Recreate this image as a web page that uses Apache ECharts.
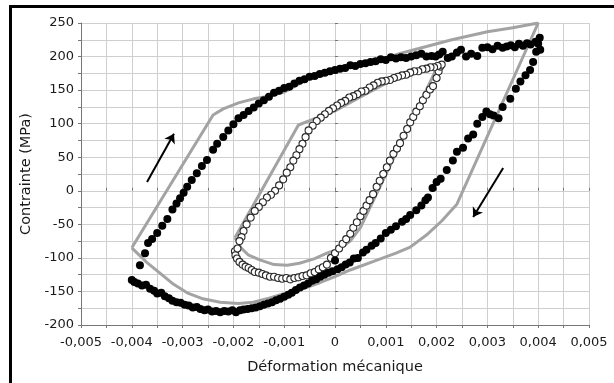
<!DOCTYPE html>
<html>
<head>
<meta charset="utf-8">
<script src="https://cdn.jsdelivr.net/npm/echarts@6/dist/echarts.min.js"></script>
<style>
  html, body { margin: 0; padding: 0; background: #fff; }
  #chart { position: absolute; left: 0; top: 0; width: 614px; height: 383px; }
  #frame { position: absolute; left: 9px; top: 5px; right: 0; bottom: 0;
           border-left: 3px solid #000; border-top: 3px solid #000; pointer-events: none; }
</style>
</head>
<body>
<div id="chart"></div>
<div id="frame"></div>
<script>
// mesures : cycle large (points pleins)
var grandCycle = [
  [-0.00400,-133],[-0.00395,-136],[-0.00388,-138],[-0.00380,-141],[-0.00372,-140],[-0.00364,-146],
  [-0.00356,-149],[-0.00350,-153],[-0.00342,-152],[-0.00335,-157],[-0.00327,-160],[-0.00320,-164],
  [-0.00312,-166],[-0.00304,-167],[-0.00296,-170],[-0.00288,-171],[-0.00280,-174],[-0.00272,-173],
  [-0.00265,-176],[-0.00257,-178],[-0.00250,-177],[-0.00242,-180],[-0.00234,-179],[-0.00226,-181],
  [-0.00218,-179],[-0.00210,-180],[-0.00202,-178],[-0.00195,-181],[-0.00187,-178],[-0.00180,-177],
  [-0.00172,-176],[-0.00164,-175],[-0.00156,-174],[-0.00148,-172],[-0.00140,-170],[-0.00132,-168],
  [-0.00124,-166],[-0.00116,-163],[-0.00108,-161],[-0.00100,-158],[-0.00092,-155],[-0.00085,-152],
  [-0.00077,-148],[-0.00069,-144],[-0.00061,-141],[-0.00053,-138],[-0.00045,-134],[-0.00037,-132],
  [-0.00029,-128],[-0.00021,-125],[-0.00013,-122],[-0.00005,-120],[0.00000,-104],[0.00005,-117],
  [0.00013,-114],[0.00021,-110],[0.00029,-107],[0.00037,-101],[0.00045,-100],[0.00055,-92],
  [0.00062,-88],[0.00072,-82],[0.00080,-78],[0.00090,-71],[0.00100,-63],[0.00110,-58],
  [0.00120,-53],[0.00132,-46],[0.00140,-42],[0.00148,-36],[0.00160,-29],[0.00170,-22],
  [0.00178,-14],[0.00183,-10],[0.00192,4],[0.00200,13],[0.00208,18],[0.00220,31],
  [0.00232,45],[0.00240,58],[0.00252,64],[0.00262,78],[0.00272,84],[0.00280,100],
  [0.00290,110],[0.00298,118],[0.00305,114],[0.00312,112],[0.00322,108],[0.00330,125],
  [0.00345,137],[0.00356,152],[0.00365,163],[0.00375,172],[0.00384,180],[0.00390,192],
  [0.00396,207],[0.00400,219],[0.00403,228],[0.00404,210],
  [0.00395,222],[0.00385,218],[0.00378,220],[0.00370,216],[0.00362,219],[0.00354,214],
  [0.00346,217],[0.00338,215],[0.00330,213],[0.00320,216],[0.00310,211],[0.00300,214],
  [0.00290,213],[0.00280,201],[0.00268,204],[0.00258,200],[0.00248,210],[0.00240,206],
  [0.00230,200],[0.00222,198],[0.00212,207],[0.00205,203],[0.00198,200],[0.00190,201],
  [0.00180,200],[0.00170,204],[0.00160,202],[0.00150,200],[0.00140,198],[0.00130,199],
  [0.00120,197],[0.00110,199],[0.00100,195],[0.00090,196],[0.00080,193],[0.00070,192],
  [0.00060,190],[0.00050,189],[0.00040,186],[0.00030,187],[0.00020,183],[0.00010,182],
  [0.00000,180],[-0.00010,178],[-0.00020,176],[-0.00030,174],[-0.00040,171],[-0.00050,170],
  [-0.00060,166],[-0.00070,164],[-0.00080,160],[-0.00090,155],[-0.00100,153],[-0.00110,149],
  [-0.00120,146],[-0.00130,140],[-0.00140,135],[-0.00150,130],[-0.00160,124],[-0.00170,119],
  [-0.00180,113],[-0.00190,108],[-0.00200,99],[-0.00210,90],[-0.00220,80],[-0.00232,70],
  [-0.00240,61],[-0.00252,46],[-0.00262,37],[-0.00272,26],[-0.00282,16],[-0.00291,6],
  [-0.00298,-3],[-0.00305,-11],[-0.00312,-19],[-0.00320,-28],[-0.00330,-42],[-0.00340,-52],
  [-0.00350,-63],[-0.00360,-72],[-0.00368,-78],[-0.00374,-93],[-0.00384,-111]
];

// mesures : petit cycle (cercles vides)
var petitCycle = [
  [-0.00197,-90],[-0.00196,-96],[-0.00193,-101],[-0.00188,-106],[-0.00182,-110],[-0.00176,-113],
  [-0.00170,-115],[-0.00164,-118],[-0.00158,-121],[-0.00150,-122],[-0.00143,-124],[-0.00136,-126],
  [-0.00128,-128],[-0.00120,-128],[-0.00112,-130],[-0.00104,-131],[-0.00096,-130],[-0.00088,-132],
  [-0.00080,-130],[-0.00072,-129],[-0.00064,-127],[-0.00056,-126],[-0.00048,-123],[-0.00040,-121],
  [-0.00032,-117],[-0.00024,-114],[-0.00016,-110],[-0.00008,-100],[0.00000,-93],[0.00008,-86],
  [0.00015,-79],[0.00022,-72],[0.00030,-64],[0.00036,-55],[0.00043,-47],[0.00050,-38],
  [0.00056,-30],[0.00062,-22],[0.00068,-14],[0.00075,-5],[0.00082,6],[0.00088,15],
  [0.00095,25],[0.00102,35],[0.00108,45],[0.00115,55],[0.00122,63],[0.00128,71],
  [0.00135,82],[0.00142,92],[0.00148,102],[0.00154,110],[0.00160,118],[0.00167,126],
  [0.00173,135],[0.00180,143],[0.00187,151],[0.00193,156],[0.00200,168],[0.00204,178],
  [0.00207,185],[0.00210,188],[0.00202,186],[0.00195,184],[0.00188,184],[0.00180,182],
  [0.00172,181],[0.00164,178],[0.00156,178],[0.00148,176],[0.00140,173],[0.00132,172],
  [0.00124,170],[0.00116,168],[0.00108,165],[0.00100,164],[0.00092,163],[0.00084,161],
  [0.00076,157],[0.00068,154],[0.00060,149],[0.00052,148],[0.00044,144],[0.00036,141],
  [0.00028,139],[0.00020,134],[0.00012,131],[0.00004,127],[-0.00004,123],[-0.00012,119],
  [-0.00020,114],[-0.00028,109],[-0.00036,104],[-0.00044,97],[-0.00052,90],[-0.00058,80],
  [-0.00064,70],[-0.00070,62],[-0.00076,53],[-0.00082,45],[-0.00088,35],[-0.00095,27],
  [-0.00102,17],[-0.00110,8],[-0.00118,0],[-0.00126,-6],[-0.00134,-10],[-0.00142,-17],
  [-0.00150,-24],[-0.00158,-30],[-0.00166,-40],[-0.00174,-50],[-0.00180,-60],[-0.00184,-69],
  [-0.00188,-75],[-0.00192,-86]
];

// modèle : grand cycle (courbe grise)
var modeleGrand = [
  [-0.0040,-85],[-0.0024,113],[-0.0022,122],[-0.0019,131],[-0.0016,137],[-0.0013,141],
  [-0.0010,147],[-0.0005,168],[0.0000,181],[0.0005,190],[0.0010,198],[0.0013,205],
  [0.0018,215],[0.0023,225],[0.0030,237],[0.0035,243],[0.0040,250],
  [0.0024,-20],[0.0021,-45],[0.0018,-66],[0.00148,-84],[0.0012,-93],[0.0008,-104],
  [0.0003,-118],[0.0000,-128],[-0.0003,-137],[-0.0006,-145],[-0.00094,-152],[-0.0013,-160],
  [-0.00161,-166],[-0.0019,-168],[-0.00226,-166],[-0.0026,-161],[-0.00291,-152],[-0.0032,-138],
  [-0.00344,-123],[-0.0037,-107],[-0.0040,-85]
];

// modèle : petit cycle (courbe grise)
var modelePetit = [
  [-0.00197,-70],[-0.00072,98],[0.0000,119],[0.0005,140],[0.0010,160],[0.0015,175],
  [0.00205,190],[0.0005,-55],[0.0003,-75],[0.0001,-86],[-0.00016,-93],[-0.0004,-101],
  [-0.0007,-108],[-0.00094,-111],[-0.0012,-110],[-0.00148,-103],[-0.0017,-96],[-0.00185,-85],
  [-0.00197,-70]
];

// flèches indiquant le sens de parcours
var flecheCharge = [[-0.00370, 13], [-0.00317, 85]];
var flecheDecharge = [[0.00331, 34], [0.00272, -39]];

var police = 'DejaVu Sans';

function fmtX(v) {
  var n = Math.round(v * 10000);
  if (n % 10 !== 0) return '';
  if (n === 0) return '0';
  var s = String(Math.abs(n) / 10);
  while (s.length < 3) s = '0' + s;
  return (n < 0 ? '-' : '') + '0,' + s;
}
function fmtY(v) {
  var n = Math.round(v);
  return n % 50 === 0 ? String(n) : '';
}

var myChart = echarts.init(document.getElementById('chart'));
var opt = {
  animation: false,
  grid: { left: 81, right: 25, top: 23, bottom: 58 },
  xAxis: [
    {
      type: 'value', min: -0.005, max: 0.005, interval: 0.0005,
      name: 'Déformation mécanique', nameLocation: 'middle', nameGap: 35,
      nameTextStyle: { fontFamily: police, fontSize: 14.5, color: '#1a1a1a' },
      axisLine: { onZero: false, lineStyle: { color: '#777', width: 1 } },
      axisTick: { show: true, length: 3, lineStyle: { color: '#777' } },
      axisLabel: { formatter: fmtX, margin: 11, fontFamily: police, fontSize: 13, color: '#1a1a1a', showMinLabel: true, showMaxLabel: true },
      splitLine: { show: true, lineStyle: { color: '#cfcfcf', width: 1 } }
    },
    {
      type: 'value', min: -0.005, max: 0.005, interval: 0.0005, position: 'bottom',
      axisLine: { show: false },
      axisTick: { show: true, inside: true, length: 3, lineStyle: { color: '#777' } },
      axisLabel: { show: false },
      splitLine: { show: false }
    }
  ],
  yAxis: [
    {
      type: 'value', min: -200, max: 250, interval: 25,
      name: 'Contrainte (MPa)', nameLocation: 'middle', nameGap: 46,
      nameTextStyle: { fontFamily: police, fontSize: 14.5, color: '#1a1a1a' },
      axisLine: { show: true, onZero: false, lineStyle: { color: '#777', width: 1 } },
      axisTick: { show: true, length: 3, lineStyle: { color: '#777' } },
      axisLabel: { formatter: fmtY, margin: 7, fontFamily: police, fontSize: 13, color: '#1a1a1a' },
      splitLine: { show: true, lineStyle: { color: '#cfcfcf', width: 1 } }
    },
    {
      type: 'value', min: -200, max: 250, interval: 25, position: 'left',
      axisLine: { show: false },
      axisTick: { show: true, inside: true, length: 3, lineStyle: { color: '#777' } },
      axisLabel: { show: false },
      splitLine: { show: false }
    }
  ],
  series: [
    {
      name: 'modèle grand', type: 'line', data: modeleGrand, showSymbol: false, symbol: 'none',
      lineStyle: { color: '#a3a3a3', width: 3 }, z: 2
    },
    {
      name: 'modèle petit', type: 'line', data: modelePetit, showSymbol: false, symbol: 'none',
      lineStyle: { color: '#a3a3a3', width: 3 }, z: 2
    },
    {
      name: 'petit cycle', type: 'scatter', data: petitCycle, symbol: 'circle', symbolSize: 7,
      itemStyle: { color: '#fff', borderColor: '#2a2a2a', borderWidth: 1.1, opacity: 1 }, z: 3
    },
    {
      name: 'grand cycle', type: 'scatter', data: grandCycle, symbol: 'circle', symbolSize: 8,
      itemStyle: { color: '#000', borderWidth: 0, opacity: 1 }, z: 4
    },
    {
      name: 'sens', type: 'lines', coordinateSystem: 'cartesian2d', polyline: false,
      symbol: ['none', 'arrow'], symbolSize: 9,
      lineStyle: { color: '#000', width: 2, opacity: 1 },
      data: [{ coords: flecheCharge }, { coords: flecheDecharge }], z: 5
    }
  ]
};
myChart.setOption(opt);
</script>
</body>
</html>
